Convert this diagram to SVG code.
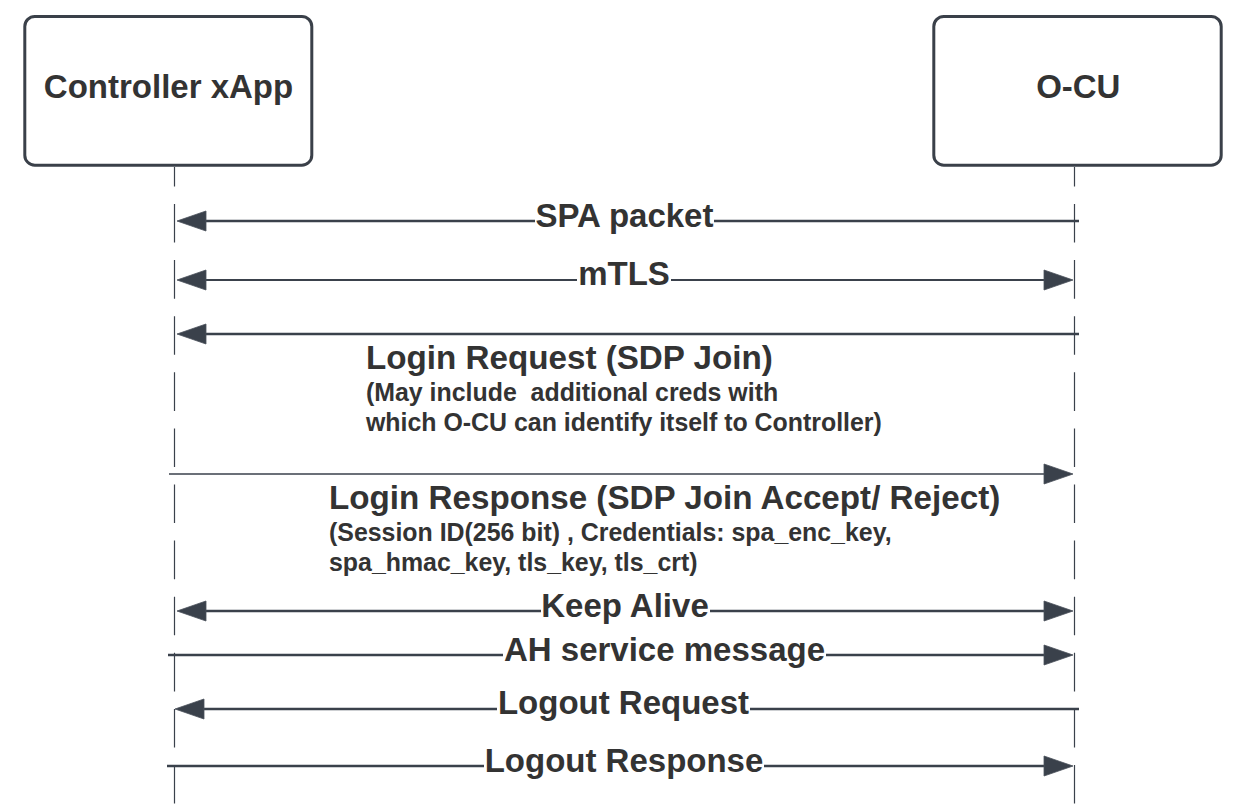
<svg xmlns="http://www.w3.org/2000/svg" xmlns:xlink="http://www.w3.org/1999/xlink" width="1246" height="807" viewBox="0 0 1246 807">
  <style>
    .box { fill: #ffffff; stroke: #3a4049; stroke-width: 3; }
    .title { font-family: "Liberation Sans", Arial, sans-serif; font-weight: bold; font-size: 33px; fill: #333333; text-anchor: middle; }
    .lbl { font-family: "Liberation Sans", Arial, sans-serif; font-weight: bold; font-size: 33px; fill: #333333; text-anchor: middle; }
    .head { font-family: "Liberation Sans", Arial, sans-serif; font-weight: bold; font-size: 33.2px; fill: #333333; }
    .sub { font-family: "Liberation Sans", Arial, sans-serif; font-weight: bold; font-size: 24.9px; fill: #333333; white-space: pre; }
    .life { stroke: #3a414b; stroke-width: 1.2; fill: none; stroke-dasharray: 38.6 17.5; stroke-dashoffset: 19.1; }
    .msg { stroke: #3a414b; stroke-width: 2.4; fill: none; }
    .thin { stroke: #3a414b; stroke-width: 1.3; fill: none; }
    .ah { fill: #3a414b; stroke: #4a515b; stroke-width: 0.8; }
    .bg { fill: #ffffff; }
  </style>
  <defs>
    <path id="ahR" class="ah" d="M-29,-10 L0,0 L-29,10 Z"/>
    <path id="ahL" class="ah" d="M29,-10 L0,0 L29,10 Z"/>
  </defs>

  <g id="node-controller">
    <rect class="box" x="24.8" y="16.5" width="287" height="148.7" rx="10" ry="10"/>
    <text class="title" x="168.5" y="97.5">Controller xApp</text>
  </g>
  <g id="node-ocu">
    <rect class="box" x="933.8" y="16.5" width="287.4" height="148.7" rx="10" ry="10"/>
    <text class="title" x="1078.3" y="97.5">O-CU</text>
  </g>

  <g id="lifelines">
    <line class="life" x1="174.5" y1="167" x2="174.5" y2="807"/>
    <line class="life" x1="1074.5" y1="167" x2="1074.5" y2="807"/>
  </g>

  <g id="connectors">
    <g id="msg-spa">
      <line class="msg" x1="205" y1="221" x2="1079" y2="221"/>
      <use xlink:href="#ahL" href="#ahL" x="177" y="221"/>
      <rect class="bg" x="535" y="217" width="179" height="8"/>
      <text class="lbl" x="624.5" y="227">SPA packet</text>
    </g>
    <g id="msg-mtls">
      <line class="msg" x1="205" y1="280" x2="1045" y2="280" style="stroke-width:2"/>
      <use xlink:href="#ahL" href="#ahL" x="177" y="280"/>
      <use xlink:href="#ahR" href="#ahR" x="1073" y="280"/>
      <rect class="bg" x="577" y="276" width="94" height="8"/>
      <text class="lbl" x="624" y="285">mTLS</text>
    </g>
    <g id="msg-login-req">
      <line class="msg" x1="205" y1="334" x2="1079" y2="334"/>
      <use xlink:href="#ahL" href="#ahL" x="177" y="334"/>
      <text class="head" x="366" y="369">Login Request (SDP Join)</text>
      <text class="sub" x="366" y="401">(May include  additional creds with</text>
      <text class="sub" x="366" y="431">which O-CU can identify itself to Controller)</text>
    </g>
    <g id="msg-login-resp">
      <line class="thin" x1="169" y1="474" x2="1045" y2="474"/>
      <use xlink:href="#ahR" href="#ahR" x="1073" y="474"/>
      <text class="head" x="329" y="509">Login Response (SDP Join Accept/ Reject)</text>
      <text class="sub" x="329" y="541">(Session ID(256 bit) , Credentials: spa_enc_key,</text>
      <text class="sub" x="329" y="571">spa_hmac_key, tls_key, tls_crt)</text>
    </g>
    <g id="msg-keepalive">
      <line class="msg" x1="205" y1="611" x2="1045" y2="611"/>
      <use xlink:href="#ahL" href="#ahL" x="177" y="611"/>
      <use xlink:href="#ahR" href="#ahR" x="1073" y="611"/>
      <rect class="bg" x="541" y="607" width="169" height="8"/>
      <text class="lbl" x="625" y="617">Keep Alive</text>
    </g>
    <g id="msg-ah">
      <line class="msg" x1="168" y1="655" x2="1045" y2="655"/>
      <use xlink:href="#ahR" href="#ahR" x="1073" y="655"/>
      <rect class="bg" x="503" y="651" width="323" height="8"/>
      <text class="lbl" x="664.5" y="661">AH service message</text>
    </g>
    <g id="msg-logout-req">
      <line class="msg" x1="203" y1="709" x2="1079" y2="709"/>
      <use xlink:href="#ahL" href="#ahL" x="175" y="709"/>
      <rect class="bg" x="497" y="705" width="253" height="8"/>
      <text class="lbl" x="623.5" y="714">Logout Request</text>
    </g>
    <g id="msg-logout-resp">
      <line class="msg" x1="167" y1="766" x2="1045" y2="766"/>
      <use xlink:href="#ahR" href="#ahR" x="1073" y="766"/>
      <rect class="bg" x="484" y="762" width="280" height="8"/>
      <text class="lbl" x="624" y="772">Logout Response</text>
    </g>
  </g>
</svg>
